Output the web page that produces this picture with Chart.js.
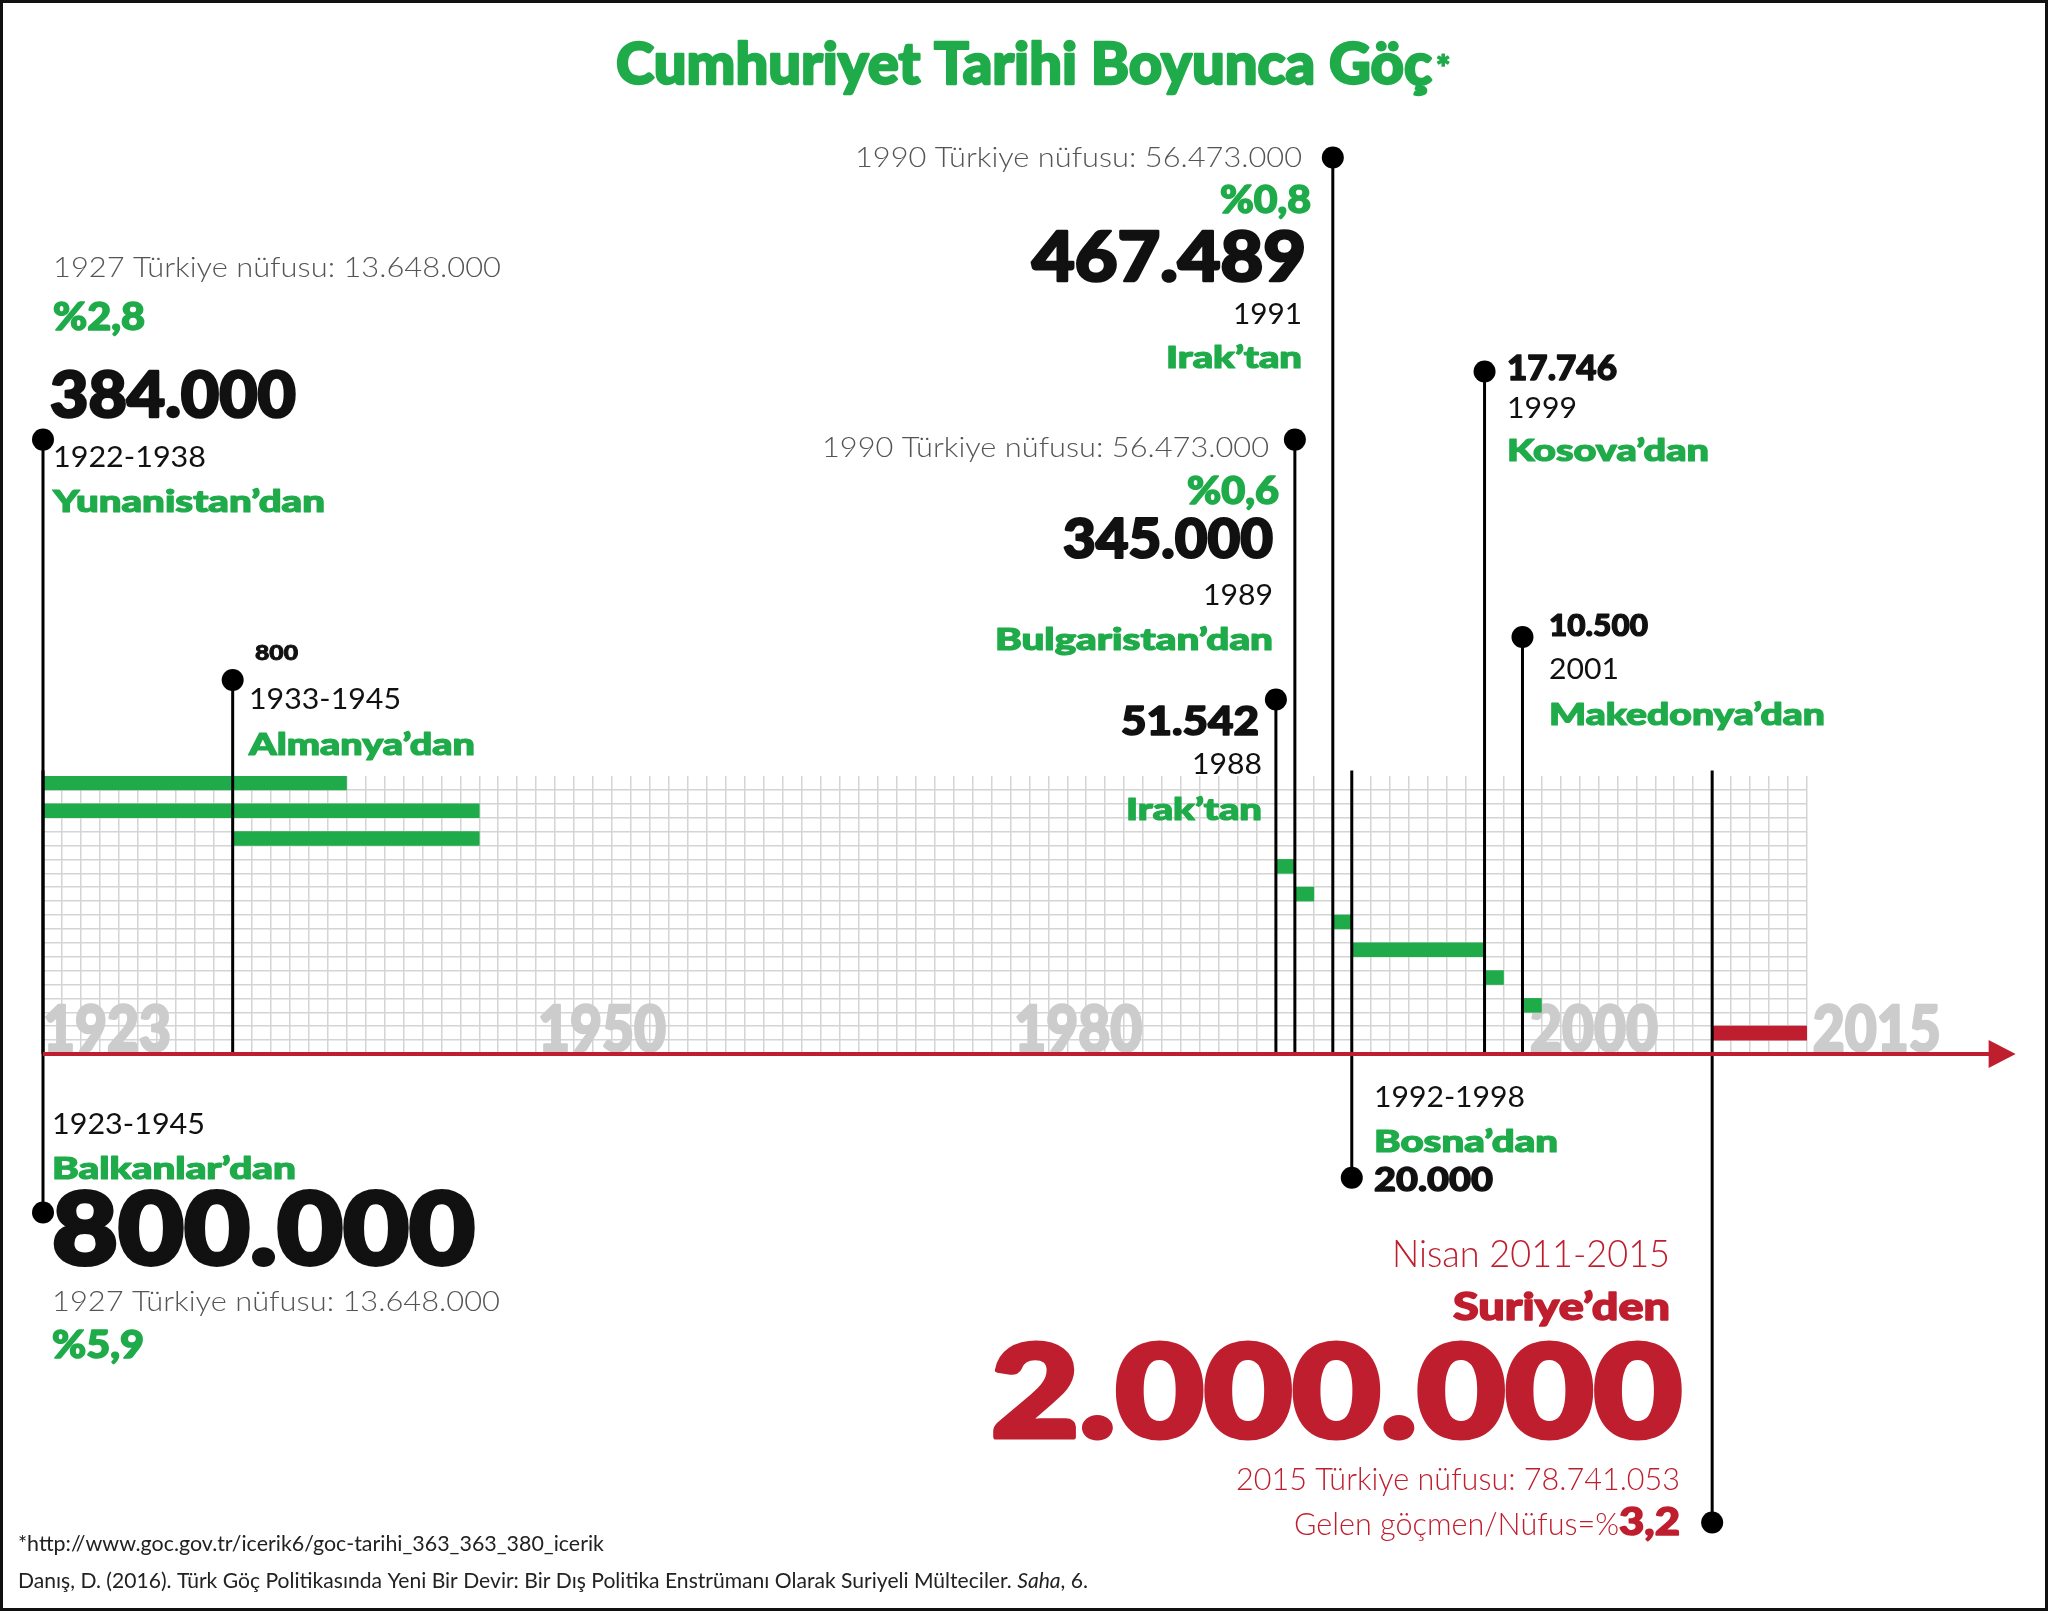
<!DOCTYPE html>
<html lang="tr">
<head>
<meta charset="utf-8">
<title>Cumhuriyet Tarihi Boyunca Göç</title>
<script src="https://cdn.jsdelivr.net/npm/chart.js@4.4.0/dist/chart.umd.min.js"></script>
<style>
  html, body { margin: 0; padding: 0; background: #fff; }
  #wrap { width: 2048px; height: 1611px; position: relative; }
</style>
</head>
<body>
<div id="wrap"><canvas id="gocChart"></canvas></div>
<script>
// migrations, one per bar, top to bottom
const origins = ['Yunanistan’dan', 'Balkanlar’dan', 'Almanya’dan', 'Irak’tan', 'Bulgaristan’dan', 'Irak’tan', 'Bosna’dan', 'Kosova’dan', 'Makedonya’dan', 'Suriye’den'];
const periods = ['1922-1938', '1923-1945', '1933-1945', '1988', '1989', '1991', '1992-1998', '1999', '2001', 'Nisan 2011-2015'];
const startYears = [1922, 1923, 1933, 1988, 1989, 1991, 1992, 1999, 2001, 2011];
const endYears = [1938, 1945, 1945, 1988, 1989, 1991, 1998, 1999, 2001, 2015];
const migrants = ['384.000', '800.000', '800', '51.542', '345.000', '467.489', '20.000', '17.746', '10.500', '2.000.000'];
const populationNotes = ['1927 Türkiye nüfusu: 13.648.000', '1927 Türkiye nüfusu: 13.648.000', '', '', '1990 Türkiye nüfusu: 56.473.000', '1990 Türkiye nüfusu: 56.473.000', '', '', '', '2015 Türkiye nüfusu: 78.741.053'];
const shares = ['%2,8', '%5,9', '', '', '%0,6', '%0,8', '', '', '', '3,2'];

// big grey year marks and where they sit on the time axis
const axisYears = ['1923', '1950', '1980', '2000', '2015'];
const axisYearAnchors = [1923, 1949.1, 1974.2, 2001.4, 2016.3];

const GREEN = '#1fab4a';
const RED = '#bf1e2e';
const INK = '#111111';
const GREY = '#555555';

// where each marker dot sits, in grid rows (0 = top of grid, 20 = axis)
const dotRows = [-24.2, 31.4, -6.9, -5.5, -24.2, -44.5, 28.9, -29.1, -10.0, 53.7];

const barData = startYears.map((s, i) => ({ x: [s, endYears[i] + 1], y: i * 2 + 0.5 }));
const barColors = startYears.map((s, i) => i === startYears.length - 1 ? RED : GREEN);

const markerSets = startYears.map((s, i) => {
  const x = Math.max(s, 1923);
  const d = dotRows[i];
  const pts = d < 0 ? [{ x: x, y: d }, { x: x, y: 20 }] : [{ x: x, y: -0.4 }, { x: x, y: d }];
  return {
    type: 'line',
    data: pts,
    borderColor: '#000',
    borderWidth: 3,
    pointRadius: 0,
    clip: false,
    order: 1,
    dotAt: d < 0 ? 0 : 1
  };
});

function put(ctx, str, x, y, font, color, align, w) {
  if (!str) return;
  ctx.save();
  ctx.font = font;
  ctx.fillStyle = color;
  ctx.textBaseline = 'alphabetic';
  ctx.textAlign = align || 'left';
  const m = ctx.measureText(str).width;
  ctx.translate(x, y);
  if (w) ctx.scale(w / m, 1);
  ctx.fillText(str, 0, 0);
  // the poster face is heavier than anything installed, so fatten it a bit
  if (font.indexOf('900') === 0) {
    const size = parseFloat(font.split(' ')[1]);
    ctx.strokeStyle = color;
    ctx.lineJoin = 'round';
    ctx.lineWidth = size * 0.04;
    ctx.strokeText(str, 0, 0);
  }
  ctx.restore();
}

const LIGHT = '300 28px Lato';
const YEAR = '400 28px Lato';
const BOLD = '900 30px Lato';
const PCT = '900 37px Lato';

const labels = [
  ['Cumhuriyet Tarihi Boyunca Göç', 616, 84, '900 58px Lato', GREEN, 'left', 816],
  ['*', 1436, 80, '900 34px Lato', GREEN, 'left'],

  [populationNotes[0], 53, 277, LIGHT, GREY, 'left', 448],
  ['%2,8', 53, 330, PCT, GREEN, 'left', 92],
  [migrants[0], 50, 417, '900 62px Lato', INK, 'left', 246],
  [periods[0], 53, 467, YEAR, INK, 'left', 153],
  [origins[0], 53, 512, BOLD, GREEN, 'left', 272],

  [migrants[2], 255, 660, '900 20px Lato', INK, 'left', 43],
  [periods[2], 249, 709, YEAR, INK, 'left', 152],
  [origins[2], 249, 755, BOLD, GREEN, 'left', 226],

  [populationNotes[5], 1302, 167, LIGHT, GREY, 'right', 447],
  [shares[5], 1311, 213, PCT, GREEN, 'right', 91],
  [migrants[5], 1306, 281, '900 68px Lato', INK, 'right', 274],
  [periods[5], 1302, 324, YEAR, INK, 'right', 69],
  [origins[5], 1302, 368, BOLD, GREEN, 'right', 136],

  [populationNotes[4], 1269, 457, LIGHT, GREY, 'right', 447],
  [shares[4], 1279, 504, PCT, GREEN, 'right', 92],
  [migrants[4], 1273, 558, '900 56px Lato', INK, 'right', 210],
  [periods[4], 1273, 605, YEAR, INK, 'right', 70],
  [origins[4], 1273, 650, BOLD, GREEN, 'right', 278],

  [migrants[3], 1259, 735, '900 40px Lato', INK, 'right', 138],
  [periods[3], 1262, 774, YEAR, INK, 'right', 70],
  [origins[3], 1262, 820, BOLD, GREEN, 'right', 136],

  [migrants[7], 1507, 380, '900 34px Lato', INK, 'left', 110],
  [periods[7], 1507, 418, YEAR, INK, 'left', 70],
  [origins[7], 1507, 461, BOLD, GREEN, 'left', 202],

  [migrants[8], 1549, 636, '900 31px Lato', INK, 'left', 99],
  [periods[8], 1549, 679, YEAR, INK, 'left', 70],
  [origins[8], 1549, 725, BOLD, GREEN, 'left', 276],

  [periods[6], 1374, 1107, YEAR, INK, 'left', 151],
  [origins[6], 1374, 1152, BOLD, GREEN, 'left', 184],
  [migrants[6], 1374, 1191, '900 33px Lato', INK, 'left', 119],

  [periods[1], 52, 1134, YEAR, INK, 'left', 153],
  [origins[1], 52, 1179, BOLD, GREEN, 'left', 244],
  [migrants[1], 52, 1264, '900 100px Lato', INK, 'left', 423],
  [populationNotes[1], 52, 1311, LIGHT, GREY, 'left', 448],
  [shares[1], 52, 1358, PCT, GREEN, 'left', 92],

  [periods[9], 1670, 1267, '300 38px Lato', RED, 'right', 278],
  [origins[9], 1670, 1320, '900 37px Lato', RED, 'right', 217],
  [migrants[9], 1682, 1437, '900 127px Lato', RED, 'right', 691],
  [populationNotes[9], 1680, 1490, '300 31px Lato', RED, 'right', 444],
  ['Gelen göçmen/Nüfus=%', 1619, 1535, '300 31px Lato', RED, 'right', 325],
  [shares[9], 1680, 1535, '900 38px Lato', RED, 'right', 61],

  ['*http://www.goc.gov.tr/icerik6/goc-tarihi_363_363_380_icerik', 18, 1551, '400 22px Lato', '#222', 'left', 586]
];

const citation = [
  ['Danış, D. (2016). Türk Göç Politikasında Yeni Bir Devir: Bir Dış Politika Enstrümanı Olarak Suriyeli Mülteciler. ', '400 22px Lato'],
  ['Saha', 'italic 400 22px Lato'],
  [', 6.', '400 22px Lato']
];

const decor = {
  id: 'decor',
  beforeDatasetsDraw(chart) {
    const ctx = chart.ctx;
    const xs = chart.scales.x;
    axisYears.forEach((t, i) => {
      put(ctx, t, xs.getPixelForValue(axisYearAnchors[i]), chart.chartArea.bottom - 3, '900 62px Lato', '#cccccc', 'left', 128);
    });
  },
  afterDatasetsDraw(chart) {
    const ctx = chart.ctx;
    const xs = chart.scales.x;
    const area = chart.chartArea;

    // axis runs on past the grid into an arrow
    const tip = xs.getPixelForValue(2027);
    ctx.save();
    ctx.strokeStyle = RED;
    ctx.fillStyle = RED;
    ctx.lineWidth = 4;
    ctx.beginPath();
    ctx.moveTo(area.left, area.bottom);
    ctx.lineTo(tip - 20, area.bottom);
    ctx.stroke();
    ctx.beginPath();
    ctx.moveTo(tip, area.bottom);
    ctx.lineTo(tip - 27, area.bottom - 14);
    ctx.lineTo(tip - 27, area.bottom + 14);
    ctx.closePath();
    ctx.fill();
    ctx.restore();

    // marker dots
    chart.data.datasets.forEach((ds, i) => {
      if (ds.type !== 'line') return;
      const p = chart.getDatasetMeta(i).data[ds.dotAt];
      ctx.beginPath();
      ctx.arc(p.x, p.y, 11, 0, Math.PI * 2);
      ctx.fillStyle = '#000';
      ctx.fill();
    });

    labels.forEach(l => put(ctx, l[0], l[1], l[2], l[3], l[4], l[5], l[6]));

    // citation line with italic journal name, squeezed to width as one piece
    ctx.save();
    let total = 0;
    citation.forEach(c => { ctx.font = c[1]; total += ctx.measureText(c[0]).width; });
    const k = 1070 / total;
    ctx.translate(18, 1588);
    ctx.scale(k, 1);
    ctx.fillStyle = '#222';
    ctx.textBaseline = 'alphabetic';
    let cx = 0;
    citation.forEach(c => { ctx.font = c[1]; ctx.fillText(c[0], cx, 0); cx += ctx.measureText(c[0]).width; });
    ctx.restore();

    // frame
    ctx.save();
    ctx.strokeStyle = '#111';
    ctx.lineWidth = 3;
    ctx.strokeRect(1.5, 1.5, chart.width - 3, chart.height - 3);
    ctx.restore();
  }
};

const ctx = document.getElementById('gocChart').getContext('2d');
const gocChart = new Chart(ctx, {
  type: 'bar',
  data: {
    datasets: [
      {
        indexAxis: 'y',
        data: barData,
        backgroundColor: barColors,
        borderWidth: 0,
        categoryPercentage: 1,
        barPercentage: 1,
        clip: 0,
        order: 2
      }
    ].concat(markerSets)
  },
  options: {
    responsive: true,
    maintainAspectRatio: false,
    animation: false,
    events: [],
    layout: { autoPadding: false, padding: { left: 43, right: 241, top: 776, bottom: 557 } },
    scales: {
      x: {
        type: 'linear',
        min: 1923,
        max: 2016,
        offset: false,
        ticks: { display: false, stepSize: 1 },
        grid: { color: '#d4d4d4', lineWidth: 1.5, drawTicks: false, offset: false },
        border: { display: false },
        afterFit: s => { s.height = 0; }
      },
      y: {
        type: 'linear',
        reverse: true,
        min: 0,
        max: 20,
        offset: false,
        ticks: { display: false, stepSize: 1 },
        grid: {
          color: c => (c.tick && (c.tick.value === 0 || c.tick.value === 20)) ? 'rgba(0,0,0,0)' : '#d4d4d4',
          lineWidth: 1.5,
          drawTicks: false,
          offset: false
        },
        border: { display: false },
        afterFit: s => { s.width = 0; }
      }
    },
    plugins: {
      legend: { display: false },
      tooltip: { enabled: false }
    }
  },
  plugins: [decor]
});
</script>
</body>
</html>
